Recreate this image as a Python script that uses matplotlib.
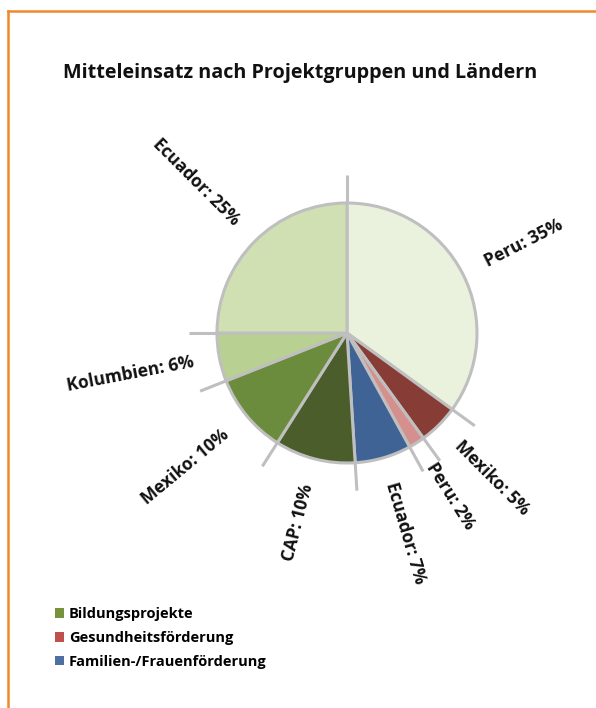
import numpy as np
import matplotlib
matplotlib.use("Agg")
import matplotlib.pyplot as plt
from matplotlib.patches import Patch
from matplotlib.lines import Line2D

# ---- data ----
labels = ["Peru", "Mexiko", "Peru", "Ecuador", "CAP", "Mexiko", "Kolumbien", "Ecuador"]
values = [35, 5, 2, 7, 10, 10, 6, 25]
colors = ["#EAF1DD", "#873D36", "#D5908E", "#3E6394", "#4A5D2A", "#6B8B3D", "#B9D093", "#D1E0B3"]
legend_labels = ["Bildungsprojekte", "Gesundheitsförderung", "Familien-/Frauenförderung"]
legend_colors = ["#76923C", "#C0504D", "#4F6FA0"]
title = "Mitteleinsatz nach Projektgruppen und Ländern"

plt.rcParams['font.family'] = ['Open Sans', 'DejaVu Sans']

W, H = 596, 708
fig = plt.figure(figsize=(W / 100, H / 100), dpi=100)

# pie axes: centre (347,333) px, radius 130 px
R = 130.0
cx, cy = 347, 333
lim = 1.6
side = 2 * lim * R
ax = fig.add_axes([(cx - side / 2) / W, (H - cy - side / 2) / H, side / W, side / H])

wedges, _ = ax.pie(values, colors=colors, startangle=90, counterclock=False,
                   radius=1.0,
                   wedgeprops=dict(edgecolor='#BFBFBF', linewidth=2.2, zorder=2))
ax.set_xlim(-lim, lim)
ax.set_ylim(-lim, lim)
ax.set_aspect('equal')
ax.axis('off')

# radial lines at each boundary extending beyond the pie
total = float(sum(values))
cum = np.concatenate([[0], np.cumsum(values)[:-1]]) / total
for c in cum:
    ang = np.deg2rad(90 - 360 * c)
    ax.plot([0, 1.215 * np.cos(ang)], [0, 1.215 * np.sin(ang)], color='#BFBFBF',
            lw=2.2, zorder=1, solid_capstyle='butt')

# labels, radial
mids = (cum + np.array(values) / total / 2)
for lab, v, m in zip(labels, values, mids):
    ang = 90 - 360 * m
    a = np.deg2rad(ang)
    r = 1.2
    x, y = r * np.cos(a), r * np.sin(a)
    if np.cos(a) >= 0:
        rot, ha = ang, 'left'
    else:
        rot, ha = ang - 180, 'right'
    rot = (rot + 180) % 360 - 180
    ax.text(x, y, f"{lab}: {v}%", rotation=rot, ha=ha, va='center',
            rotation_mode='anchor', fontsize=12.5, fontweight='bold', color='#111111')

# title
fig.text(63 / W, 1 - 73 / H, title, fontsize=14.2, fontweight='bold',
         ha='left', va='center', color='#111111')

# legend
handles = [Patch(facecolor=c, edgecolor='none') for c in legend_colors]
fig.legend(handles, legend_labels, loc='upper left', bbox_to_anchor=(42 / W, 1 - 594 / H),
           frameon=False, handlelength=0.6, handleheight=0.6, handletextpad=0.35,
           labelspacing=0.68, prop=dict(size=10.5, weight='bold'))

# orange frame (left and top)
oc = '#F0892A'
fig.add_artist(Line2D([8 / W, 1], [1 - 11 / H, 1 - 11 / H], color=oc, lw=1.8, transform=fig.transFigure))
fig.add_artist(Line2D([8 / W, 8 / W], [0, 1 - 11 / H], color=oc, lw=1.8, transform=fig.transFigure))

fig.savefig("out.png", dpi=100, facecolor='white')
